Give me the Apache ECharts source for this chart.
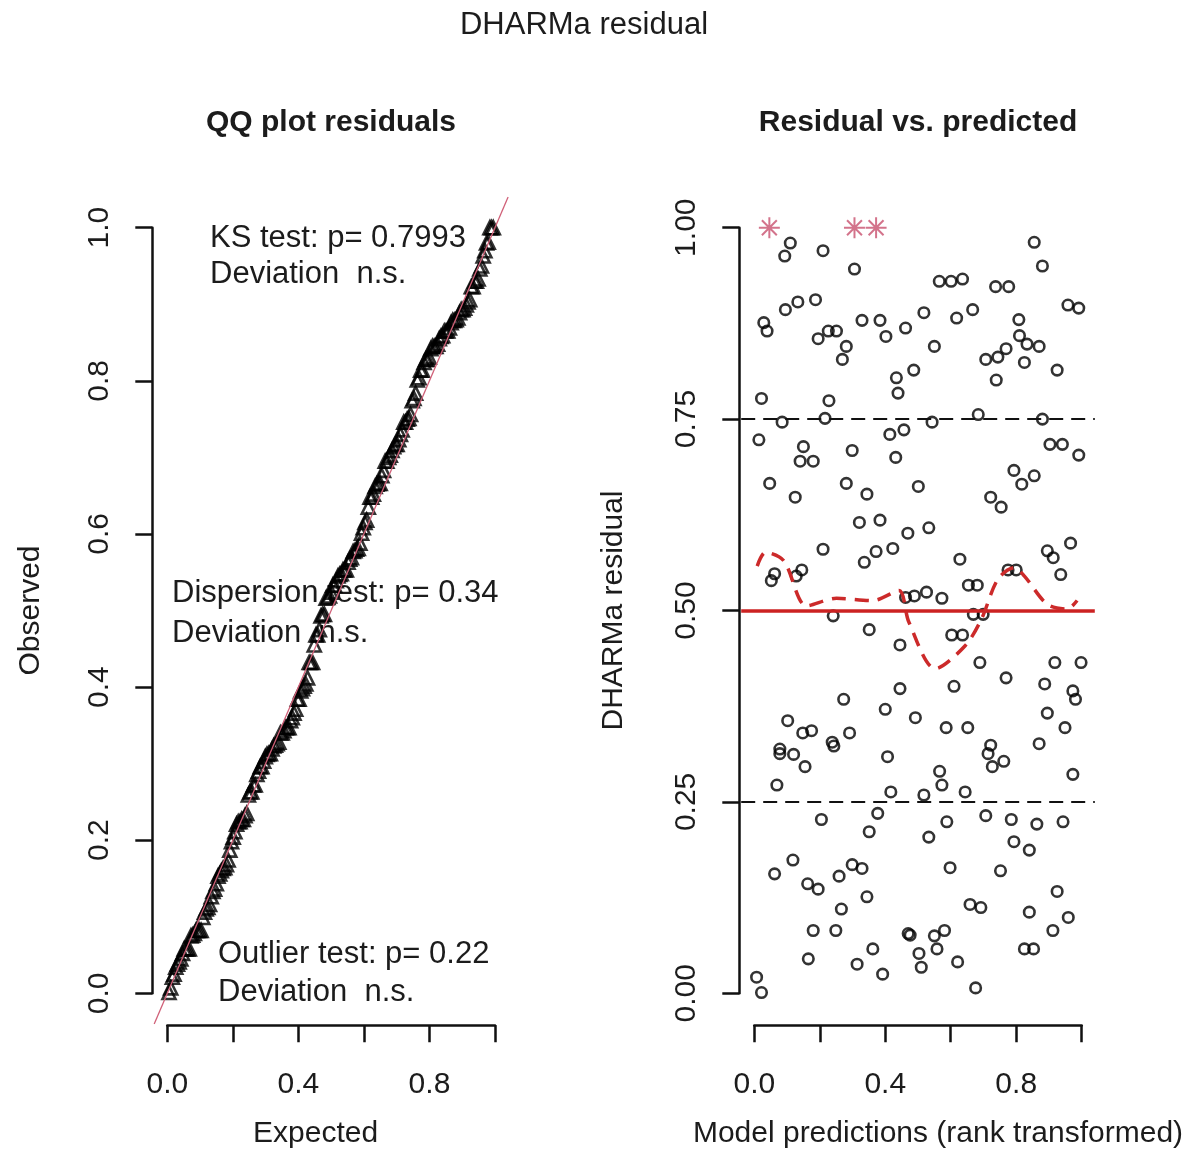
<!DOCTYPE html>
<html>
<head>
<meta charset="utf-8">
<script src="https://cdn.jsdelivr.net/npm/echarts@6/dist/echarts.min.js"></script>
<style>html,body{margin:0;padding:0;background:#fff}#chart{width:1203px;height:1152px}</style>
</head>
<body>
<div id="chart"></div>
<script>
// ---------- data ----------
// Residual vs. predicted: x = model prediction (rank transformed), y = scaled residual
const predX = [
  0.110,0.093,0.210,0.306,0.855,0.880,0.565,0.601,0.636,0.737,0.777,0.958,0.991,0.095,0.133,0.187,0.029,0.039,0.329,0.384,0.402,0.462,0.518,0.618,0.667,0.195,0.226,0.251,0.281,0.269,0.550,0.808,0.810,0.833,0.870,0.707,0.744,0.769,0.825,0.925,0.739,0.434,0.487,0.439,0.022,0.228,
  0.085,0.216,0.543,0.684,0.880,0.014,0.150,0.140,0.180,0.299,0.414,0.457,0.432,0.903,0.941,0.991,0.047,0.125,0.281,0.344,0.501,0.793,0.817,0.855,0.722,0.754,0.321,0.384,0.469,0.533,0.210,0.336,0.372,0.423,0.628,0.966,0.895,0.913,0.936,0.775,0.800,0.052,0.062,0.128,0.145,0.654,0.681,0.462,0.489,0.526,0.573,
  0.241,0.669,0.699,0.351,0.445,0.603,0.636,0.689,0.918,0.998,0.769,0.887,0.973,0.981,0.445,0.610,0.273,0.400,0.492,0.895,0.949,0.102,0.148,0.175,0.291,0.238,0.243,0.586,0.652,0.078,0.078,0.120,0.155,0.407,0.722,0.714,0.762,0.727,0.870,0.973,0.566,0.573,0.069,0.417,0.518,0.644,
  0.205,0.377,0.351,0.533,0.588,0.707,0.785,0.863,0.943,0.793,0.840,0.118,0.062,0.163,0.195,0.259,0.299,0.329,0.598,0.752,0.344,0.266,0.925,0.659,0.692,0.840,0.959,0.912,0.180,0.249,0.470,0.476,0.550,0.581,0.362,0.558,0.503,0.510,0.165,0.314,0.392,0.621,0.676,0.825,0.853,0.007,0.022
];
const residY = [
  0.980,0.963,0.970,0.946,0.981,0.950,0.930,0.930,0.933,0.923,0.923,0.899,0.895,0.893,0.903,0.906,0.876,0.865,0.879,0.879,0.858,0.869,0.889,0.882,0.893,0.855,0.865,0.865,0.845,0.828,0.845,0.880,0.859,0.848,0.845,0.828,0.831,0.842,0.824,0.814,0.801,0.804,0.814,0.784,0.777,0.774,
  0.746,0.751,0.746,0.756,0.750,0.723,0.714,0.695,0.695,0.709,0.730,0.736,0.700,0.717,0.717,0.703,0.666,0.648,0.666,0.652,0.662,0.683,0.665,0.676,0.648,0.635,0.615,0.618,0.601,0.608,0.580,0.563,0.577,0.581,0.567,0.588,0.578,0.569,0.547,0.553,0.553,0.539,0.548,0.545,0.553,0.533,0.533,0.517,0.519,0.524,0.516,
  0.493,0.495,0.495,0.475,0.455,0.468,0.468,0.432,0.432,0.432,0.412,0.404,0.395,0.384,0.398,0.401,0.384,0.371,0.360,0.366,0.347,0.356,0.340,0.343,0.340,0.328,0.323,0.347,0.347,0.319,0.313,0.312,0.296,0.309,0.324,0.313,0.303,0.296,0.326,0.286,0.290,0.272,0.272,0.263,0.259,0.263,
  0.227,0.235,0.211,0.204,0.224,0.232,0.227,0.221,0.224,0.198,0.187,0.174,0.156,0.143,0.136,0.153,0.168,0.163,0.164,0.160,0.126,0.110,0.133,0.116,0.112,0.106,0.099,0.082,0.082,0.082,0.078,0.076,0.075,0.082,0.058,0.058,0.052,0.034,0.045,0.038,0.025,0.041,0.007,0.058,0.058,0.021,0.001
];
// outliers (red asterisks)
const outlierX = [0.046, 0.306, 0.372];
const outlierY = [1.0, 1.0, 1.0];
// median quantile smooth (red dashed)
const smoothX = [0.009,0.034,0.090,0.160,0.251,0.362,0.442,0.472,0.553,0.644,0.694,0.744,0.795,0.825,0.895,0.956,0.986];
const smoothY = [0.558,0.576,0.565,0.506,0.516,0.513,0.526,0.485,0.424,0.454,0.489,0.541,0.556,0.545,0.508,0.502,0.513];
// reference lines
const dashedRefY = [0.25, 0.75];
const solidRefY = [0.5];
// tick labels
const qqXTickLabels = [0, 0.4, 0.8];
const qqYTickLabels = [0, 0.2, 0.4, 0.6, 0.8, 1.0];
const resXTickLabels = [0, 0.4, 0.8];
const resYTickLabels = [0, 0.25, 0.5, 0.75, 1.0];
// test annotations
const qqNotes = [
  ['KS test: p= 0.7993', 'Deviation  n.s.'],
  ['Dispersion test: p= 0.34', 'Deviation  n.s.'],
  ['Outlier test: p= 0.22', 'Deviation  n.s.']
];

// ---------- derived ----------
const PAD = 0.04; // R's 4% axis extension
const allResid = residY.concat(outlierY).slice().sort((a, b) => a - b);
const nRes = allResid.length;
const qqData = allResid.map((v, i) => [(i + 1) / (nRes + 1), v]);
const resData = predX.map((x, i) => [x, residY[i]]);
const outData = outlierX.map((x, i) => [x, outlierY[i]]);
const smoothData = smoothX.map((x, i) => [x, smoothY[i]]);

const FONT = '"Liberation Sans", Arial, sans-serif';
const TXT = '#1c1c1c';
const AX = '#111';

function visX(gridIndex, labels, digits, name, namePad) {
  return {
    type: 'value', gridIndex, min: 0, max: 1, interval: 0.2, offset: 32,
    axisLine: { show: true, onZero: false, lineStyle: { color: AX, width: 2.5 } },
    axisTick: { show: true, inside: false, length: 17, lineStyle: { color: AX, width: 2.5 } },
    axisLabel: { show: true, margin: 44, customValues: labels, formatter: v => Number(v).toFixed(digits),
      fontSize: 30, fontFamily: FONT, color: TXT },
    splitLine: { show: false },
    name, nameLocation: 'middle', nameGap: 93,
    nameTextStyle: { fontSize: 30, fontFamily: FONT, color: TXT, padding: namePad }
  };
}
function visY(gridIndex, interval, labels, digits, name, gap) {
  return {
    type: 'value', gridIndex, min: 0, max: 1, interval, offset: 15,
    axisLine: { show: true, onZero: false, lineStyle: { color: AX, width: 2.5 } },
    axisTick: { show: true, inside: false, length: 17, lineStyle: { color: AX, width: 2.5 } },
    axisLabel: { show: true, margin: 38, rotate: 90, customValues: labels, formatter: v => Number(v).toFixed(digits),
      fontSize: 30, fontFamily: FONT, color: TXT },
    splitLine: { show: false },
    name, nameLocation: 'middle', nameGap: gap, nameRotate: 90,
    nameTextStyle: { fontSize: 30, fontFamily: FONT, color: TXT }
  };
}
function dataAxis(gridIndex) {
  return { type: 'value', gridIndex, min: -PAD, max: 1 + PAD, show: false, splitLine: { show: false } };
}

function noteText(x, y, text) {
  return { type: 'text', x, y, silent: true, z: 2,
    style: { text, font: '31px ' + FONT, fill: TXT, align: 'left', verticalAlign: 'middle' } };
}

const chart = echarts.init(document.getElementById('chart'), null, { renderer: 'canvas' });
chart.setOption({
  animation: false,
  backgroundColor: '#fff',
  grid: [
    { left: 167.3, top: 227.7, width: 327.7, height: 765.6, outerBoundsMode: 'none', containLabel: false },
    { left: 154.2, top: 197.1, width: 353.9, height: 826.8, outerBoundsMode: 'none', containLabel: false },
    { left: 754.3, top: 227.7, width: 327.4, height: 765.6, outerBoundsMode: 'none', containLabel: false },
    { left: 741.2, top: 197.1, width: 353.6, height: 826.8, outerBoundsMode: 'none', containLabel: false }
  ],
  xAxis: [
    visX(0, qqXTickLabels, 1, 'Expected', [0, 31, 0, 0]),
    dataAxis(1),
    visX(2, resXTickLabels, 1, 'Model predictions (rank transformed)', [0, 0, 0, 40]),
    dataAxis(3)
  ],
  yAxis: [
    visY(0, 0.2, qqYTickLabels, 1, 'Observed', 107),
    dataAxis(1),
    visY(2, 0.25, resYTickLabels, 2, 'DHARMa residual', 111),
    dataAxis(3)
  ],
  graphic: [
    { type: 'text', x: 584, y: 25, silent: true,
      style: { text: 'DHARMa residual', font: '31px ' + FONT, fill: TXT, align: 'center', verticalAlign: 'middle' } },
    { type: 'text', x: 331, y: 122.5, silent: true,
      style: { text: 'QQ plot residuals', font: 'bold 30px ' + FONT, fill: TXT, align: 'center', verticalAlign: 'middle' } },
    { type: 'text', x: 918, y: 122.5, silent: true,
      style: { text: 'Residual vs. predicted', font: 'bold 30px ' + FONT, fill: TXT, align: 'center', verticalAlign: 'middle' } },
    noteText(210, 238.5, qqNotes[0][0]),
    noteText(210, 274.5, qqNotes[0][1]),
    noteText(172, 593.5, qqNotes[1][0]),
    noteText(172, 633.5, qqNotes[1][1]),
    noteText(218, 954.5, qqNotes[2][0]),
    noteText(218, 992.5, qqNotes[2][1])
  ],
  series: [
    { type: 'scatter', xAxisIndex: 1, yAxisIndex: 1, data: qqData, symbol: 'triangle', symbolSize: 13,
      itemStyle: { color: 'rgba(0,0,0,0)', borderColor: '#000', borderWidth: 2.6 }, silent: true, z: 3 },
    { type: 'line', xAxisIndex: 1, yAxisIndex: 1, data: [[-PAD, -PAD], [1 + PAD, 1 + PAD]], showSymbol: false, symbol: 'none',
      lineStyle: { color: '#d06078', width: 1.3 }, silent: true, z: 4 },
    { type: 'scatter', xAxisIndex: 3, yAxisIndex: 3, data: resData, symbol: 'circle', symbolSize: 10.5,
      itemStyle: { color: 'rgba(0,0,0,0)', borderColor: '#000', borderWidth: 2.6 }, silent: true, z: 3 },
    { type: 'scatter', xAxisIndex: 3, yAxisIndex: 3, data: outData,
      symbol: 'path://M10,0L10,20M0,10L20,10M2.9,2.9L17.1,17.1M17.1,2.9L2.9,17.1', symbolSize: 21,
      itemStyle: { color: 'rgba(0,0,0,0)', borderColor: '#c8506e', borderWidth: 2 }, silent: true, z: 3 },
    { type: 'line', xAxisIndex: 3, yAxisIndex: 3, data: [], silent: true, z: 4,
      markLine: { silent: true, symbol: ['none', 'none'], label: { show: false }, animation: false,
        data: dashedRefY.map(v => ({ yAxis: v, lineStyle: { color: '#111', width: 2.2, type: [14, 8] } }))
          .concat(solidRefY.map(v => ({ yAxis: v, lineStyle: { color: '#cc2222', width: 3.5, type: 'solid' } }))) } },
    { type: 'line', xAxisIndex: 3, yAxisIndex: 3, data: smoothData, smooth: 0.3, showSymbol: false, symbol: 'none',
      lineStyle: { color: '#cc2a2a', width: 3.5, type: [14, 9] }, silent: true, z: 5 }
  ]
});
</script>
</body>
</html>
